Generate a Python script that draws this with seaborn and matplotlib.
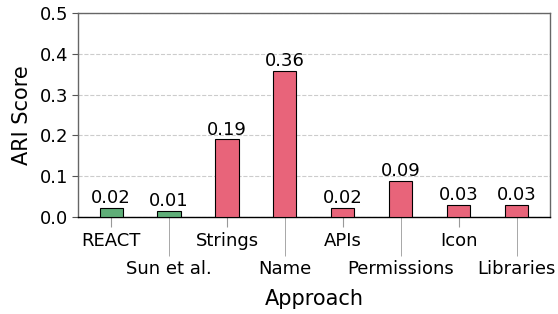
import matplotlib
matplotlib.use("Agg")
import matplotlib.pyplot as plt
import seaborn as sns
import pandas as pd
import numpy as np

approaches = ["REACT", "Sun et al.", "Strings", "Name", "APIs",
              "Permissions", "Icon", "Libraries"]
ari_scores = [0.022, 0.014, 0.19, 0.358, 0.022, 0.088, 0.028, 0.028]
bar_colors = ["#5fae78", "#5fae78", "#e8647a", "#e8647a", "#e8647a",
              "#e8647a", "#e8647a", "#e8647a"]

sns.set_style("white", {"text.color": "black", "axes.labelcolor": "black",
                        "xtick.color": "black", "ytick.color": "black",
                        "xtick.bottom": True, "ytick.left": True})
plt.rcParams['font.family'] = ['DejaVu Sans']

df = pd.DataFrame({"Approach": approaches, "ARI Score": ari_scores})

fig, ax = plt.subplots(figsize=(5.58, 3.14), dpi=100)
sns.barplot(data=df, x="Approach", y="ARI Score", hue="Approach",
            palette=bar_colors, saturation=1, width=0.4, edgecolor="black",
            linewidth=0.8, legend=False, ax=ax, zorder=3)

for p, v in zip(ax.patches, ari_scores):
    ax.text(p.get_x() + p.get_width() / 2, p.get_height() + 0.002,
            f"{v:.2f}", ha="center", va="bottom", fontsize=13)

ax.set_ylim(0, 0.5)
ax.set_yticks(np.arange(0, 0.51, 0.1))
ax.yaxis.grid(True, linestyle="--", color="#cccccc", linewidth=0.8, zorder=0)
ax.set_axisbelow(True)

# staggered tick labels: even ones on major ticks, odd ones on long minor ticks
pos = np.arange(len(approaches))
ax.set_xticks(pos[::2])
ax.set_xticklabels(approaches[::2], fontsize=13)
ax.set_xticks(pos[1::2], minor=True)
ax.set_xticklabels(approaches[1::2], minor=True, fontsize=13)
ax.tick_params(axis="x", which="major", length=7, color="#999999", pad=4)
ax.tick_params(axis="x", which="minor", length=28, color="#999999", pad=3,
               bottom=True)
ax.tick_params(axis="y", length=4, color="#555555", labelsize=13, pad=3)
ax.set_xlim(-0.57, len(approaches) - 0.43)

ax.set_xlabel("Approach", fontsize=15, labelpad=8)
ax.set_ylabel("ARI Score", fontsize=15, labelpad=6)

for s in ["left", "top", "right"]:
    ax.spines[s].set_color("#666666")
ax.spines["bottom"].set_color("black")
for s in ax.spines.values():
    s.set_visible(True)
    s.set_linewidth(1.0)

fig.subplots_adjust(left=0.14, right=0.985, top=0.958, bottom=0.31)
fig.savefig("out.png", dpi=100)
